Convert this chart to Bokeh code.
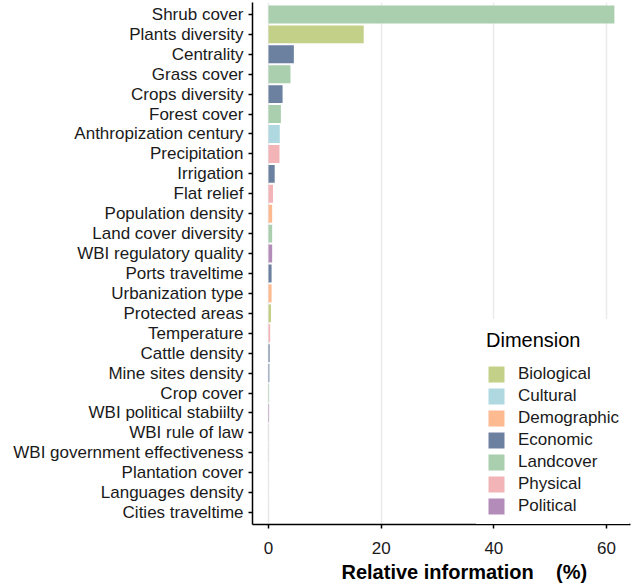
from bokeh.plotting import figure
from bokeh.models import FactorRange, Range1d, Legend, LegendItem, Title, FixedTicker, ColumnDataSource
from bokeh.embed import file_html
from bokeh.resources import INLINE

# ---- data (top to bottom as shown) ----
features = [
    "Shrub cover", "Plants diversity", "Centrality", "Grass cover", "Crops diversity",
    "Forest cover", "Anthropization century", "Precipitation", "Irrigation", "Flat relief",
    "Population density", "Land cover diversity", "WBI regulatory quality", "Ports traveltime",
    "Urbanization type", "Protected areas", "Temperature", "Cattle density", "Mine sites density",
    "Crop cover", "WBI political stabiilty", "WBI rule of law", "WBI government effectiveness",
    "Plantation cover", "Languages density", "Cities traveltime",
]
values = [
    61.4, 16.9, 4.5, 3.9, 2.5,
    2.2, 2.0, 1.95, 1.1, 0.8,
    0.65, 0.65, 0.65, 0.55,
    0.55, 0.45, 0.3, 0.2, 0.15,
    0.1, 0.1, 0.02, 0.02,
    0.01, 0.01, 0.01,
]
dimensions = [
    "Landcover", "Biological", "Economic", "Landcover", "Economic",
    "Landcover", "Cultural", "Physical", "Economic", "Physical",
    "Demographic", "Landcover", "Political", "Economic",
    "Demographic", "Biological", "Physical", "Economic", "Economic",
    "Landcover", "Political", "Political", "Political",
    "Landcover", "Cultural", "Economic",
]
dimension_names = ["Biological", "Cultural", "Demographic", "Economic", "Landcover", "Physical", "Political"]
dimension_colors = ["#c3d087", "#afd8e0", "#fdb990", "#6c80a0", "#a9cfae", "#f2b4b7", "#b38cb9"]
x_ticks = [0, 20, 40, 60]
x_label = "Relative information    (%)"
legend_title = "Dimension"

FONT = "Liberation Sans"

p = figure(
    width=632, height=585,
    y_range=FactorRange(factors=list(reversed(features)), range_padding=0.1,
                        range_padding_units="absolute"),
    x_range=Range1d(-2.84, 64.26),
    output_backend="svg", toolbar_location=None,
    min_border_left=252, min_border_right=2, min_border_top=2, min_border_bottom=0,
)

items = []
for name, color in zip(dimension_names, dimension_colors):
    idx = [i for i, d in enumerate(dimensions) if d == name]
    src = ColumnDataSource(dict(y=[features[i] for i in idx], right=[values[i] for i in idx]))
    r = p.hbar(y="y", left=0, right="right", height=0.9, source=src,
               fill_color=color, line_color=None)
    items.append(LegendItem(label=name, renderers=[r]))

legend = Legend(
    items=items, location=(224, -2), title=legend_title,
    title_text_font=FONT, title_text_font_size="20px", title_text_font_style="normal",
    title_text_color="black", title_standoff=12,
    label_text_font=FONT, label_text_font_size="17px", label_text_color="#1a1a1a",
    glyph_width=20, glyph_height=20, label_height=20, spacing=2, padding=10, margin=0,
    label_standoff=12, border_line_alpha=0, background_fill_color="white",
    background_fill_alpha=1,
)
p.add_layout(legend)

p.xaxis.ticker = FixedTicker(ticks=x_ticks)
for ax in (p.xaxis, p.yaxis):
    ax.axis_line_color = "black"
    ax.axis_line_width = 1.5
    ax.major_tick_line_color = "black"
    ax.major_tick_line_width = 1.5
    ax.major_tick_out = 4
    ax.major_tick_in = 0
    ax.minor_tick_line_color = None
    ax.major_label_text_font = FONT
    ax.major_label_text_font_size = "17px"
    ax.major_label_text_color = "#1a1a1a"
    ax.major_label_standoff = 5
p.xaxis.major_label_standoff = 13

p.ygrid.grid_line_color = None
p.xgrid.grid_line_color = "#ebebeb"
p.xgrid.grid_line_width = 1.5
p.outline_line_color = None

# keep the wide gap between the words visible (SVG collapses runs of plain spaces)
shown_label = x_label.replace("  ", " \u00a0")
t = Title(text=shown_label, align="left", offset=89, text_font=FONT, text_font_size="20px",
          text_font_style="bold", text_color="black", standoff=5)
p.add_layout(t, "below")

open("out.html", "w").write(file_html(p, INLINE))
